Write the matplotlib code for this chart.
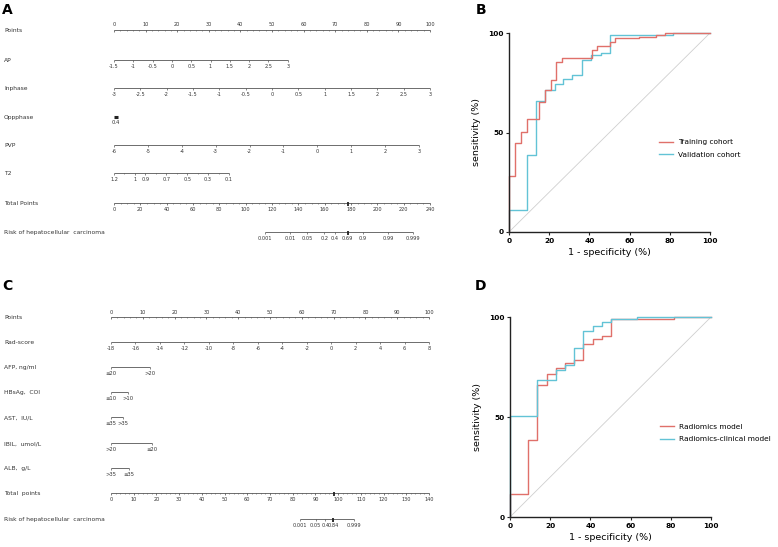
import numpy as np
import matplotlib
matplotlib.use('Agg')
import matplotlib.pyplot as plt
from matplotlib.transforms import blended_transform_factory

# ---- nomogram A (points given at the end of each scale) ----
a_names = ['Points', 'AP', 'Inphase', 'Oppphase', 'PVP', 'T2', 'Total Points',
           'Risk of hepatocellular  carcinoma']
ap_vals = [-1.5, -1, -0.5, 0, 0.5, 1, 1.5, 2, 2.5, 3]
ap_max_pts = 55
inphase_vals = [-3, -2.5, -2, -1.5, -1, -0.5, 0, 0.5, 1, 1.5, 2, 2.5, 3]
inphase_max_pts = 100
opp_vals = [0.4]
opp_max_pts = 1.2
pvp_vals = [-6, -5, -4, -3, -2, -1, 0, 1, 2, 3]
pvp_max_pts = 96.5
t2_vals = [1.2, 1, 0.9, 0.7, 0.5, 0.3, 0.1]
t2_minor = [1.1, 0.8, 0.6, 0.4, 0.2]
t2_max_pts = 36.4
a_total_max = 240
a_risk = [0.001, 0.01, 0.05, 0.2, 0.4, 0.69, 0.9, 0.99, 0.999]
a_risk_mid, a_risk_slope = 170.9, 8.14   # total points at p=0.5, points per logit
a_mark_total, a_mark_risk = 178, 0.69

# ---- nomogram C ----
c_names = ['Points', 'Rad-score', 'AFP, ng/ml', 'HBsAg,  COI', 'AST,  IU/L',
           'IBIL,  umol/L', 'ALB,  g/L', 'Total  points',
           'Risk of hepatocellular  carcinoma']
rad_vals = list(range(-18, 9, 2))
rad_max_pts = 100
cat_rows = [(['≤20', '>20'], 12.3), (['≤10', '>10'], 5.3), (['≤35', '>35'], 3.8),
            (['>20', '≤20'], 12.9), (['>35', '≤35'], 5.7)]
c_total_max = 140
c_risk = [0.001, 0.05, 0.4, 0.84, 0.999]
c_risk_mid, c_risk_slope = 95.1, 1.72
c_mark_total, c_mark_risk = 98, 0.84

# ---- ROC curves (1-specificity where sensitivity steps up, %) ----
b_train_fpr = [0, 0, 3.0, 5.8, 9.0, 14.8, 17.7, 20.7, 23.5, 26.5, 41.3, 43.9, 50.1, 52.9, 64.5, 73.0, 77.5, 100]
b_train_tpr = [0, 27.9, 44.6, 50.4, 56.6, 65.1, 71.6, 76.6, 85.3, 87.6, 91.7, 93.5, 95.3, 97.3, 98.0, 99.2, 100, 100]
b_valid_fpr = [0, 0, 9.0, 13.6, 17.7, 22.7, 26.9, 31.5, 36.5, 41.0, 45.9, 50.1, 81.6, 100]
b_valid_tpr = [0, 11.2, 38.6, 65.8, 71.6, 74.6, 77.1, 78.8, 86.3, 88.8, 90.2, 98.8, 100, 100]
d_rad_fpr = [0, 0, 9.1, 13.6, 18.2, 22.9, 27.4, 31.8, 36.5, 41.1, 45.6, 50.1, 81.6, 100]
d_rad_tpr = [0, 11.5, 38.7, 65.8, 71.7, 74.7, 77.0, 78.7, 86.3, 88.8, 90.3, 98.8, 100, 100]
d_clin_fpr = [0, 0, 13.6, 22.9, 27.4, 31.8, 36.5, 41.1, 45.6, 50.1, 63.3, 100]
d_clin_tpr = [0, 50.5, 68.7, 73.3, 75.8, 84.7, 93.0, 95.7, 97.5, 98.8, 100, 100]

RED = '#e0706a'
CYAN = '#62c3d6'
LC = '#555555'
W, H = 778, 547

fig = plt.figure(figsize=(7.78, 5.47), dpi=100)


def logit(p):
    p = np.asarray(p, dtype=float)
    return np.log(p / (1 - p))


def nomo_axes(x0, x1, top, bottom):
    ax = fig.add_axes([x0 / W, 1 - bottom / H, (x1 - x0) / W, (bottom - top) / H])
    ax.set_xlim(0, 100)
    ax.set_ylim(bottom - top, 0)
    ax.axis('off')
    return ax


def scale(ax, y, pts, labels, minor=None, above=False, marks=(), fs=3.6):
    pts = np.asarray(pts, dtype=float)
    lo, hi = pts.min(), pts.max()
    if minor is not None:
        lo, hi = min(lo, np.min(minor)), max(hi, np.max(minor))
        ax.vlines(minor, y, y + 1.4, color=LC, lw=0.4, clip_on=False)
    ax.plot([lo, hi], [y, y], color=LC, lw=0.6, clip_on=False, solid_capstyle='butt')
    ax.vlines(pts, y, y + 2.3, color=LC, lw=0.5, clip_on=False)
    for m in marks:
        ax.vlines(m, y - 1.2, y + 2.5, color='#222222', lw=1.3, clip_on=False)
    dy = -5 if above else 6.5
    for p, lab in zip(pts, labels):
        ax.text(p, y + dy, lab, ha='center', va='center', fontsize=fs, color='#333333')


def row_name(ax, y, name):
    tr = blended_transform_factory(fig.transFigure, ax.transData)
    ax.text(4 / W, y + 0.5, name, transform=tr, ha='left', va='center',
            fontsize=4.3, color='#333333')


def fmt(v):
    return ('%g' % v)


def lin_pts(vals, max_pts):
    v = np.asarray(vals, dtype=float)
    return (v - v[0]) / (v[-1] - v[0]) * max_pts


# ================= panel A =================
axA = nomo_axes(114, 430, 0, 270)
ya = [30, 60, 88, 117, 145, 173, 203, 232]
for y, n in zip(ya, a_names):
    row_name(axA, y, n)
scale(axA, ya[0], np.arange(0, 101, 10), [str(v) for v in range(0, 101, 10)],
      minor=np.arange(0, 101, 2), above=True)
scale(axA, ya[1], lin_pts(ap_vals, ap_max_pts), [fmt(v) for v in ap_vals])
scale(axA, ya[2], lin_pts(inphase_vals, inphase_max_pts), [fmt(v) for v in inphase_vals])
axA.plot([0, opp_max_pts], [ya[3], ya[3]], color='#222222', lw=2.2, solid_capstyle='butt')
axA.text(opp_max_pts / 2, ya[3] + 6, fmt(opp_vals[0]), ha='center', va='center',
         fontsize=3.8, color='#333333')
scale(axA, ya[4], lin_pts(pvp_vals, pvp_max_pts), [fmt(v) for v in pvp_vals])
t2_span = t2_vals[0] - t2_vals[-1]
t2_p = (t2_vals[0] - np.array(t2_vals)) / t2_span * t2_max_pts
t2_m = (t2_vals[0] - np.array(t2_minor)) / t2_span * t2_max_pts
scale(axA, ya[5], t2_p, [fmt(v) for v in t2_vals], minor=t2_m)
tot = np.arange(0, a_total_max + 1, 20)
scale(axA, ya[6], tot * 100 / a_total_max, [str(v) for v in tot],
      minor=np.arange(0, a_total_max + 1, 5) * 100 / a_total_max,
      marks=[a_mark_total * 100 / a_total_max])
rp = (a_risk_mid + a_risk_slope * logit(a_risk)) * 100 / a_total_max
scale(axA, ya[7], rp, [fmt(v) for v in a_risk],
      marks=[(a_risk_mid + a_risk_slope * logit(a_mark_risk)) * 100 / a_total_max])

# ================= panel C =================
axC = nomo_axes(111, 429, 270, 547)
yc = [47, 72, 97, 122, 147, 173, 198, 223, 249]
for y, n in zip(yc, c_names):
    row_name(axC, y, n)
scale(axC, yc[0], np.arange(0, 101, 10), [str(v) for v in range(0, 101, 10)],
      minor=np.arange(0, 101, 2), above=True)
scale(axC, yc[1], lin_pts(rad_vals, rad_max_pts), [fmt(v) for v in rad_vals])
for y, (labs, mp) in zip(yc[2:7], cat_rows):
    scale(axC, y, [0, mp], labs, fs=3.8)
tot = np.arange(0, c_total_max + 1, 10)
scale(axC, yc[7], tot * 100 / c_total_max, [str(v) for v in tot],
      minor=np.arange(0, c_total_max + 1, 2) * 100 / c_total_max,
      marks=[c_mark_total * 100 / c_total_max])
rp = (c_risk_mid + c_risk_slope * logit(c_risk)) * 100 / c_total_max
scale(axC, yc[8], rp, [fmt(v) for v in c_risk],
      marks=[(c_risk_mid + c_risk_slope * logit(c_mark_risk)) * 100 / c_total_max])


# ================= ROC panels =================
def roc_axes(x0, x1, top, bottom):
    ax = fig.add_axes([x0 / W, 1 - bottom / H, (x1 - x0) / W, (bottom - top) / H])
    ax.set_xlim(0, 100)
    ax.set_ylim(0, 100)
    for s in ['top', 'right']:
        ax.spines[s].set_visible(False)
    for s in ['left', 'bottom']:
        ax.spines[s].set_linewidth(1.0)
        ax.spines[s].set_color('#222222')
    ax.set_xticks(range(0, 101, 20))
    ax.set_yticks([0, 50, 100])
    ax.tick_params(length=2.5, width=0.8, labelsize=5.3, pad=1.5, color='#222222')
    for t in ax.get_xticklabels() + ax.get_yticklabels():
        t.set_fontweight('bold')
    ax.plot([0, 100], [0, 100], color='#cfcfcf', lw=0.6)
    ax.set_xlabel('1 - specificity (%)', fontsize=6.8, labelpad=3)
    ax.set_ylabel('sensitivity (%)', fontsize=6.8, labelpad=5)
    return ax


leg_kw = dict(loc='center left', bbox_to_anchor=(0.73, 0.42), frameon=False,
              fontsize=5.3, handlelength=2.0, handletextpad=0.6, labelspacing=0.8,
              borderaxespad=0)

axB = roc_axes(509, 710, 33, 232)
axB.step(b_valid_fpr, b_valid_tpr, where='post', color=CYAN, lw=1.0, clip_on=False,
         label='Validation cohort')
axB.step(b_train_fpr, b_train_tpr, where='post', color=RED, lw=1.0, clip_on=False,
         label='Training cohort')
h, l = axB.get_legend_handles_labels()
axB.legend(h[::-1], l[::-1], **leg_kw)

axD = roc_axes(510, 711, 317, 517)
axD.step(d_rad_fpr, d_rad_tpr, where='post', color=RED, lw=1.0, clip_on=False,
         label='Radiomics model')
axD.step(d_clin_fpr, d_clin_tpr, where='post', color=CYAN, lw=1.0, clip_on=False,
         label='Radiomics-clinical model')
axD.legend(**leg_kw)

# panel letters
for x, y, s in [(7, 10, 'A'), (481, 10, 'B'), (7, 286, 'C'), (481, 286, 'D')]:
    fig.text(x / W, 1 - y / H, s, fontsize=10, fontweight='bold', ha='center', va='center')

fig.savefig('out.png', dpi=100)
